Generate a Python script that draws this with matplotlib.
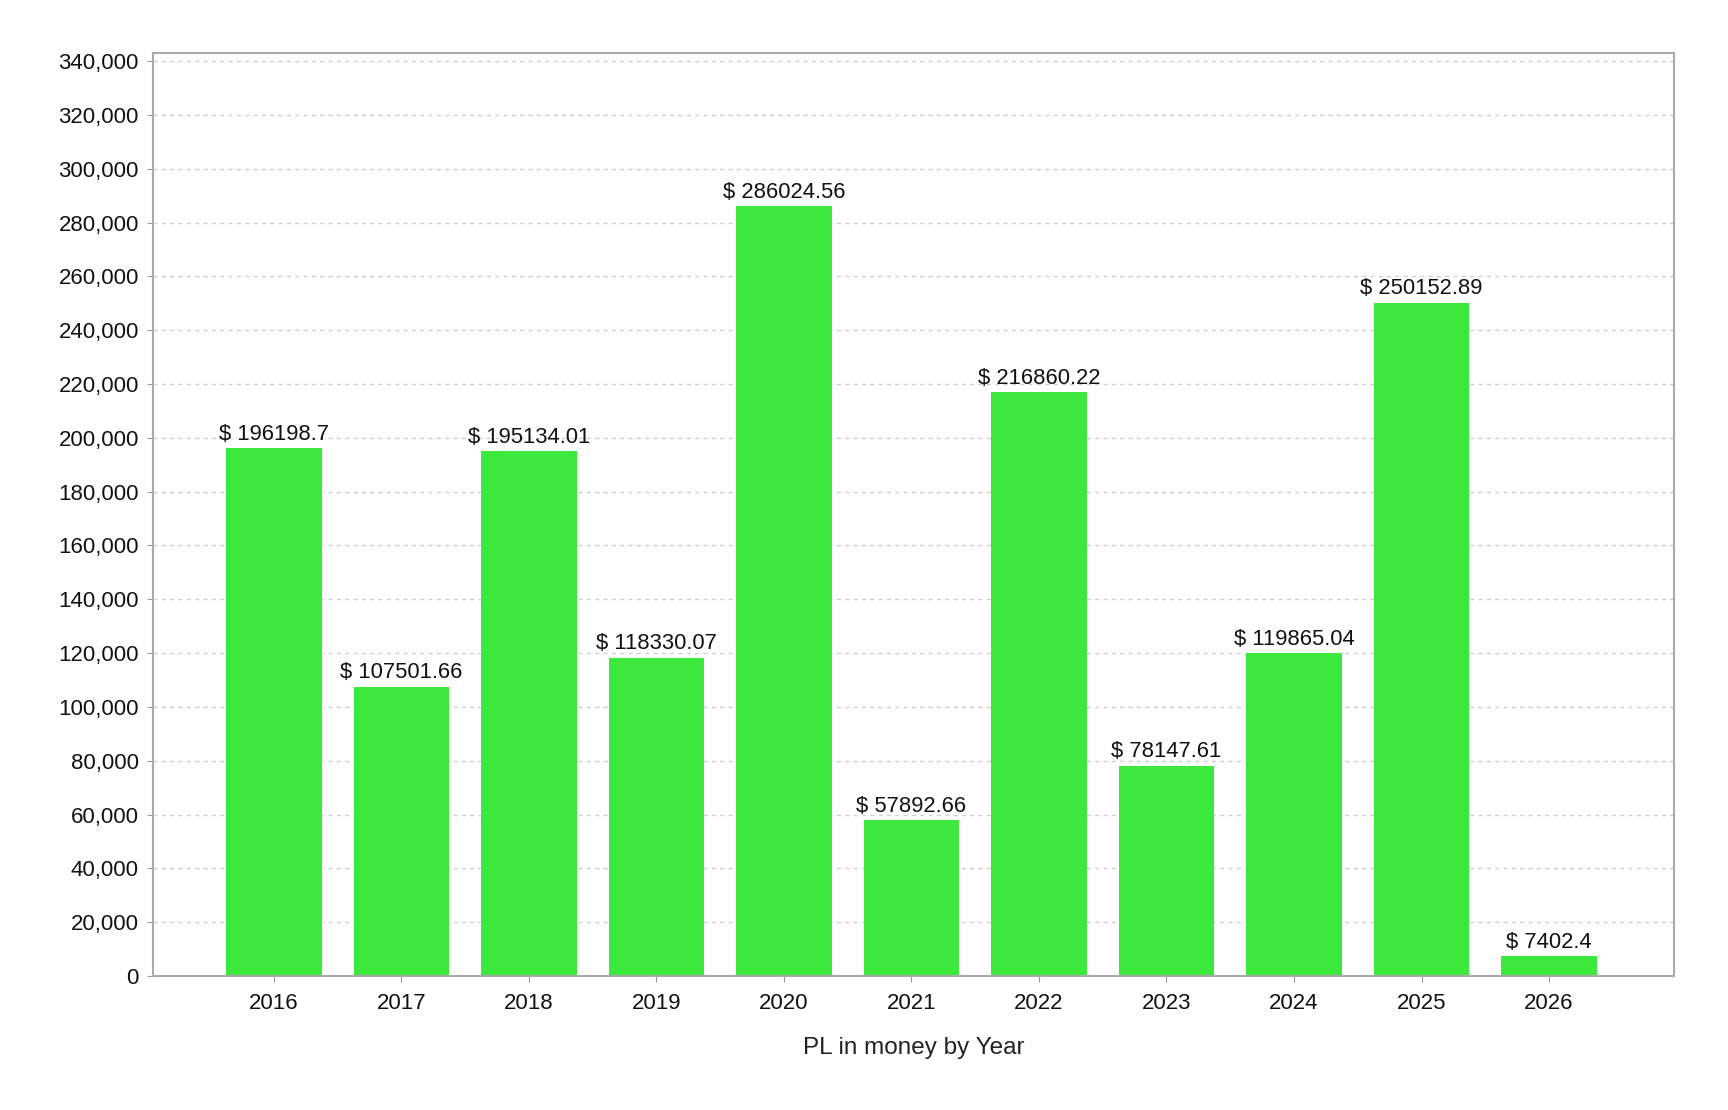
import matplotlib
matplotlib.use("Agg")
import matplotlib.pyplot as plt
from matplotlib.ticker import FuncFormatter, MultipleLocator

years = ["2016", "2017", "2018", "2019", "2020", "2021", "2022", "2023", "2024", "2025", "2026"]
values = [196198.7, 107501.66, 195134.01, 118330.07, 286024.56, 57892.66,
          216860.22, 78147.61, 119865.04, 250152.89, 7402.4]
labels = ["$ 196198.7", "$ 107501.66", "$ 195134.01", "$ 118330.07", "$ 286024.56",
          "$ 57892.66", "$ 216860.22", "$ 78147.61", "$ 119865.04", "$ 250152.89", "$ 7402.4"]
xlabel = "PL in money by Year"

plt.rcParams['font.family'] = ['Liberation Sans', 'DejaVu Sans']

fig = plt.figure(figsize=(17.28, 11.10), dpi=100)
ax = fig.add_axes([152.7/1728, 1-976/1110, (1674-152.7)/1728, (976-52.7)/1110])

x = list(range(len(years)))
bars = ax.bar(x, values, width=0.75, color='#3de83d', zorder=2)

for xi, v, lab in zip(x, values, labels):
    ax.annotate(lab, (xi, v), xytext=(0, 6), textcoords='offset points',
                ha='center', va='baseline', fontsize=15.8, color='#111111')

ax.set_xlim(-0.95, 10.98)
ax.set_ylim(0, 343100)
ax.yaxis.set_major_locator(MultipleLocator(20000))
ax.yaxis.set_major_formatter(FuncFormatter(lambda v, p: f"{v:,.0f}"))
ax.set_xticks(x)
ax.set_xticklabels(years)
ax.tick_params(axis='both', labelsize=16, color='#999999', length=4, labelcolor='#111111')
ax.tick_params(axis='x', pad=8)
ax.tick_params(axis='y', pad=6)

ax.grid(axis='y', linestyle=(0, (3, 3)), color='#d0d0d0', linewidth=1, zorder=0)
ax.set_axisbelow(True)
for s in ax.spines.values():
    s.set_color('#aaaaaa')
    s.set_linewidth(1.5)

ax.set_xlabel(xlabel, fontsize=17.5, color='#222222', labelpad=17)

fig.savefig("out.png", dpi=100, facecolor='white')
